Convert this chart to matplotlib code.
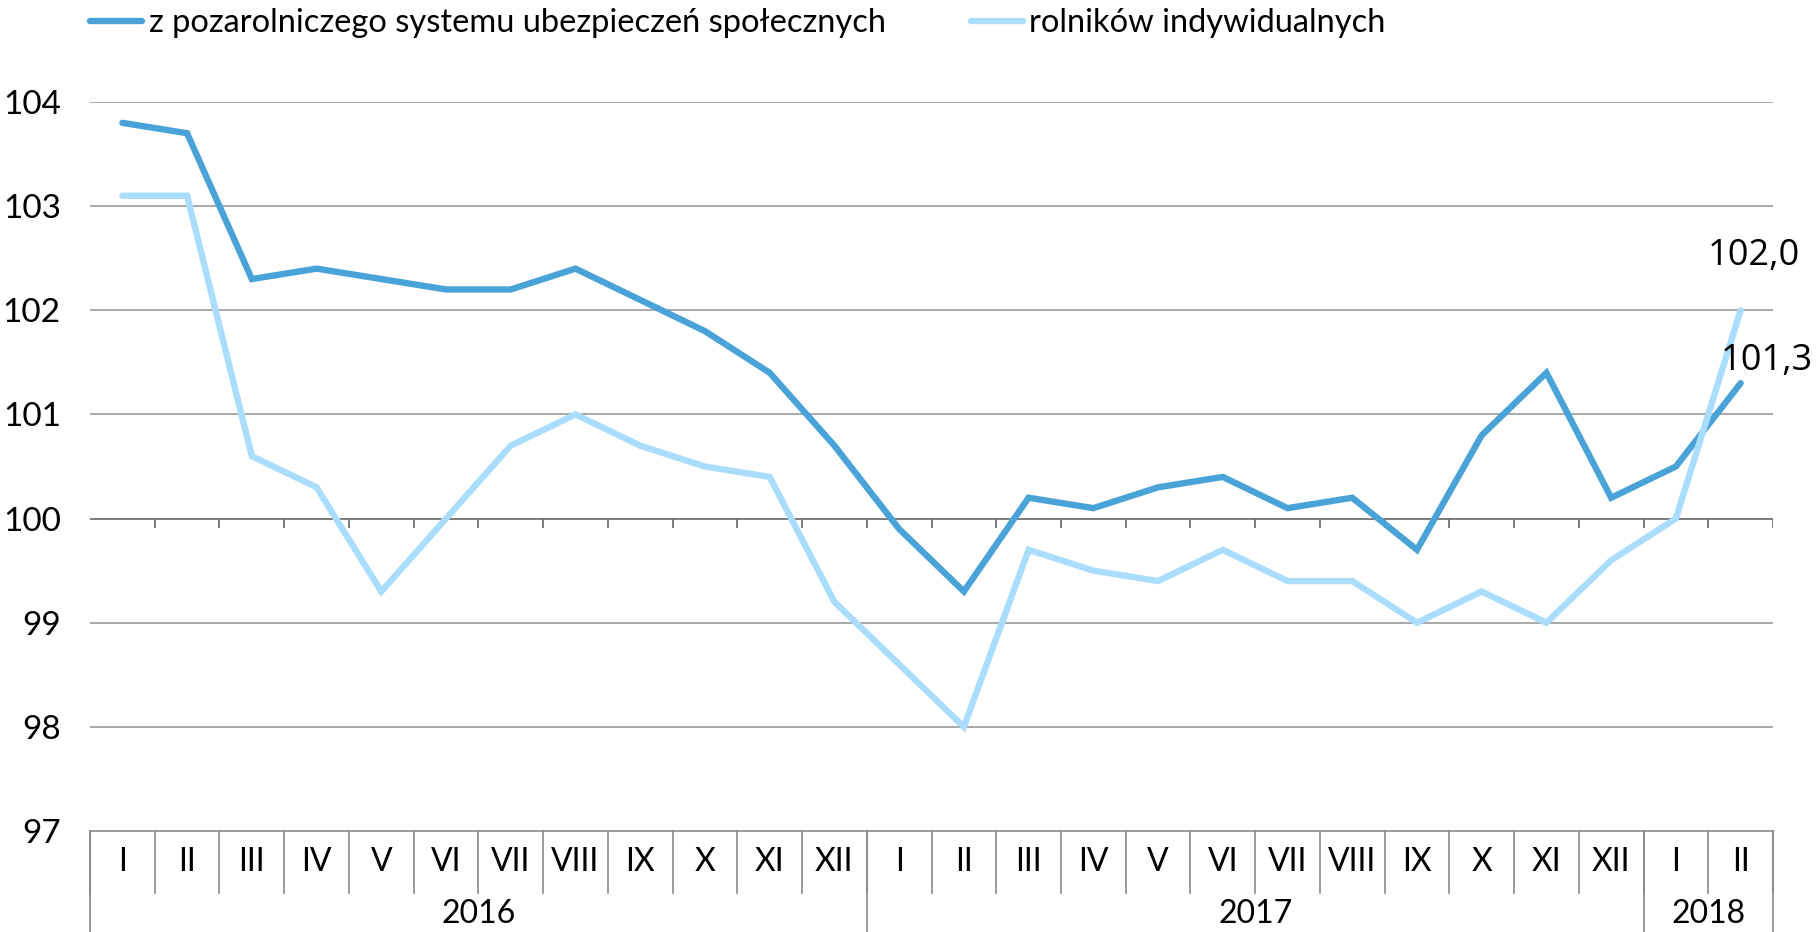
import matplotlib.pyplot as plt
import matplotlib as mpl

mpl.rcParams['font.family'] = ['Open Sans', 'DejaVu Sans']
narrow = ['Lato', 'DejaVu Sans']

months = ['I', 'II', 'III', 'IV', 'V', 'VI', 'VII', 'VIII', 'IX', 'X', 'XI', 'XII'] * 2 + ['I', 'II']
years = ['2016', '2017', '2018']
year_len = [12, 12, 2]

pozarolniczy = [103.8, 103.7, 102.3, 102.4, 102.3, 102.2, 102.2, 102.4, 102.1, 101.8, 101.4, 100.7,
                99.9, 99.3, 100.2, 100.1, 100.3, 100.4, 100.1, 100.2, 99.7, 100.8, 101.4, 100.2,
                100.5, 101.3]
rolnicy = [103.1, 103.1, 100.6, 100.3, 99.3, 100.0, 100.7, 101.0, 100.7, 100.5, 100.4, 99.2,
           98.6, 98.0, 99.7, 99.5, 99.4, 99.7, 99.4, 99.4, 99.0, 99.3, 99.0, 99.6,
           100.0, 102.0]
names = ['z pozarolniczego systemu ubezpieczeń społecznych', 'rolników indywidualnych']
colors = ['#4aa3d8', '#a9dcfd']

W, H = 1819, 932
fig = plt.figure(figsize=(W / 100, H / 100), dpi=100)
x0, x1, ytop, ybot = 90, 1773, 102, 831
ax = fig.add_axes([x0 / W, 1 - ybot / H, (x1 - x0) / W, (ybot - ytop) / H])

n = len(months)
xs = [i + 0.5 for i in range(n)]
ax.set_xlim(0, n)
ax.set_ylim(97, 104)

for y in range(98, 105):
    ax.axhline(y, color='#666666' if y == 100 else '#9a9a9a', lw=1.2, zorder=1)

ax.plot(xs, pozarolniczy, color=colors[0], lw=4.6, solid_capstyle='round', solid_joinstyle='miter', zorder=3, label=names[0])
ax.plot(xs, rolnicy, color=colors[1], lw=4.6, solid_capstyle='round', solid_joinstyle='miter', zorder=3, label=names[1])

# ticks hanging under the 100 line
tick = 9 / 104.3
ax.vlines(range(1, n + 1), 100 - tick, 100, color='#666666', lw=1.2, zorder=1)

ax.annotate(f'{rolnicy[-1]:.1f}'.replace('.', ','), (xs[-1], rolnicy[-1]), xytext=(13, 36),
            textcoords='offset pixels', ha='center', va='bottom', fontsize=26)
ax.annotate(f'{pozarolniczy[-1]:.1f}'.replace('.', ','), (xs[-1], pozarolniczy[-1]), xytext=(26, 4),
            textcoords='offset pixels', ha='center', va='bottom', fontsize=26)

for s in ax.spines.values():
    s.set_visible(False)
ax.set_xticks([])
ax.set_yticks(range(97, 105))
ax.tick_params(axis='y', length=0, pad=21)
for lab in ax.get_yticklabels():
    lab.set_family(narrow)
    lab.set_fontsize(24)

# category table under the plot
ah = ybot - ytop
def ay(px):
    return -(px - ybot) / ah

tr = ax.get_xaxis_transform()
gc = '#8a8a8a'
ax.plot([0, n], [0, 0], transform=tr, color=gc, lw=1.2, clip_on=False)
for i in range(n + 1):
    ax.plot([i, i], [0, ay(893)], transform=tr, color=gc, lw=1.2, clip_on=False)
for i, m in enumerate(months):
    ax.text(i + 0.5, ay(862), m, transform=tr, ha='center', va='center', fontsize=23, family=narrow)
start = 0
for yr, ln in zip(years, year_len):
    ax.plot([start, start], [0, ay(935)], transform=tr, color=gc, lw=1.2, clip_on=False)
    ax.text(start + ln / 2, ay(914), yr, transform=tr, ha='center', va='center', fontsize=23, family=narrow)
    start += ln
ax.plot([n, n], [0, ay(935)], transform=tr, color=gc, lw=1.2, clip_on=False)

ax.legend(loc='center left', bbox_to_anchor=(x0 / W, 1 - 23 / H), bbox_transform=fig.transFigure,
          ncol=2, frameon=False, borderpad=0, borderaxespad=0, handlelength=1.6, handletextpad=0.2,
          columnspacing=2.6, prop={'family': narrow, 'size': 23.5})

fig.savefig('out.png', dpi=100)
